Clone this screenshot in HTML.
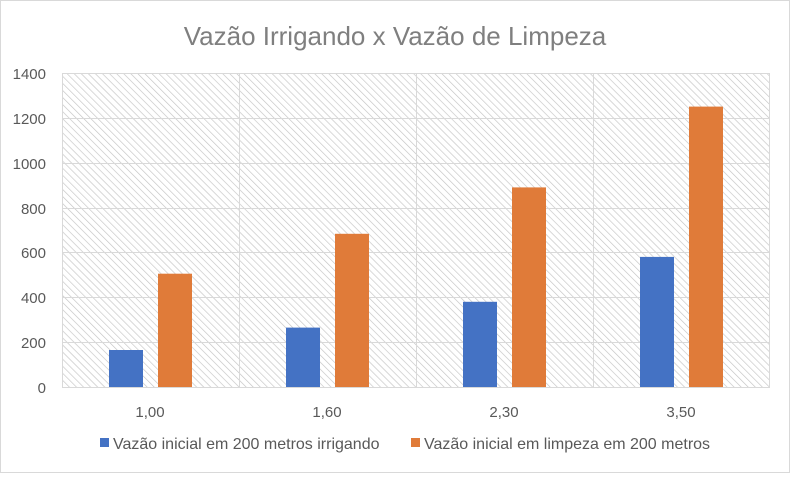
<!DOCTYPE html>
<html><head><style>
body{margin:0;background:#fff;}
svg text{font-family:"Liberation Sans",sans-serif;fill:#595959;}
</style></head><body>
<svg width="790" height="473" viewBox="0 0 790 473" xmlns="http://www.w3.org/2000/svg">
<defs>
<pattern id="h" width="5" height="5" patternUnits="userSpaceOnUse" patternTransform="rotate(-45)">
<rect width="5" height="5" fill="#fff"/>
<line x1="0" y1="0" x2="0" y2="5" stroke="#c4c4c4" stroke-width="1.3"/>
</pattern>
</defs>
<rect x="0" y="0" width="790" height="473" fill="#fff"/>
<rect x="0.5" y="0.5" width="789" height="472" fill="none" stroke="#d9d9d9"/>
<text x="395" y="45" font-size="26" text-anchor="middle" style="fill:#7f7f7f">Vazão Irrigando x Vazão de Limpeza</text>
<rect x="62" y="73" width="708" height="314" fill="url(#h)"/>
<g stroke="#d9d9d9" stroke-width="1">
<line x1="62" y1="73.5" x2="770" y2="73.5"/>
<line x1="62" y1="118.5" x2="770" y2="118.5"/>
<line x1="62" y1="163.5" x2="770" y2="163.5"/>
<line x1="62" y1="208.5" x2="770" y2="208.5"/>
<line x1="62" y1="252.5" x2="770" y2="252.5"/>
<line x1="62" y1="297.5" x2="770" y2="297.5"/>
<line x1="62" y1="342.5" x2="770" y2="342.5"/>
<line x1="62" y1="387.5" x2="770" y2="387.5"/>
<line x1="62.5" y1="73" x2="62.5" y2="387"/>
<line x1="239.5" y1="73" x2="239.5" y2="387"/>
<line x1="416.5" y1="73" x2="416.5" y2="387"/>
<line x1="593.5" y1="73" x2="593.5" y2="387"/>
<line x1="769.5" y1="73" x2="769.5" y2="387"/>
</g>
<g font-size="15" text-anchor="end">
<text x="46" y="79">1400</text><text x="46" y="124">1200</text><text x="46" y="169">1000</text>
<text x="46" y="214">800</text><text x="46" y="258">600</text><text x="46" y="303">400</text>
<text x="46" y="348">200</text><text x="46" y="393">0</text>
</g>
<g fill="#4472c4">
<rect x="109" y="350" width="34" height="37"/>
<rect x="286" y="327.6" width="34" height="59.4"/>
<rect x="463" y="301.8" width="34" height="85.2"/>
<rect x="640" y="256.9" width="34" height="130.1"/>
</g>
<g fill="#e07b39">
<rect x="158" y="273.7" width="34" height="113.3"/>
<rect x="335" y="233.8" width="34" height="153.2"/>
<rect x="512" y="187.4" width="34" height="199.6"/>
<rect x="689" y="106.6" width="34" height="280.4"/>
</g>
<g font-size="15" text-anchor="middle">
<text x="150" y="417">1,00</text><text x="327" y="417">1,60</text>
<text x="504" y="417">2,30</text><text x="681" y="417">3,50</text>
</g>
<rect x="100" y="438" width="9" height="9" fill="#4472c4"/>
<text x="113" y="449" font-size="16">Vazão inicial em 200 metros irrigando</text>
<rect x="411" y="438" width="9" height="9" fill="#e07b39"/>
<text x="424" y="449" font-size="16">Vazão inicial em limpeza em 200 metros</text>
</svg>
</body></html>
